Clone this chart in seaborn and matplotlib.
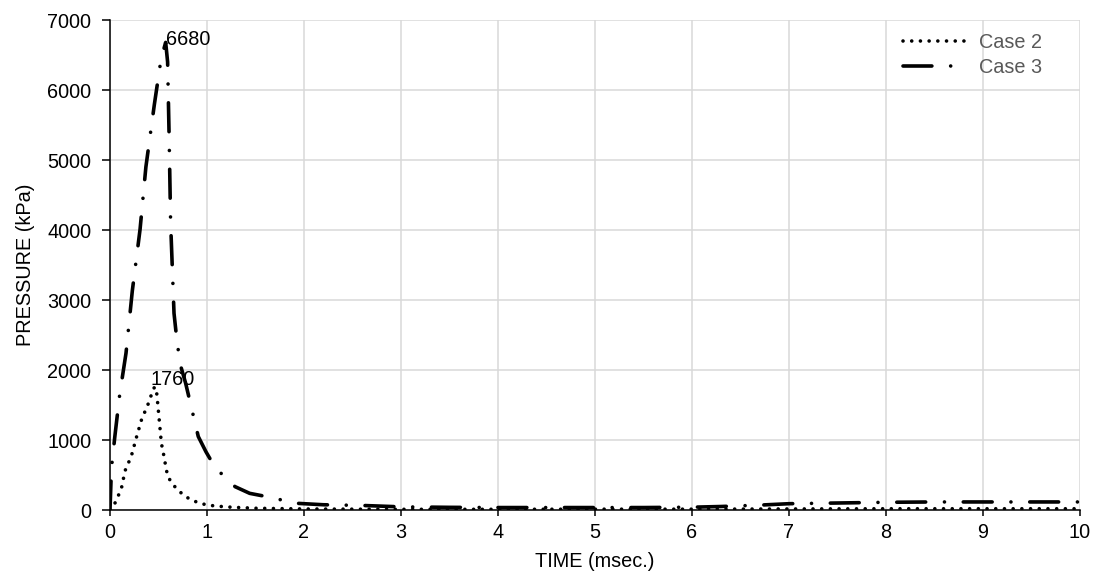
import matplotlib
matplotlib.use("Agg")
import matplotlib.pyplot as plt
import seaborn as sns
import pandas as pd

# Case 2 pressure history (time in msec, pressure in kPa)
time_case2 = [0.0, 0.05, 0.086, 0.12, 0.155, 0.22, 0.275, 0.325, 0.395, 0.44, 0.46,
              0.48, 0.49, 0.50, 0.51, 0.52, 0.53, 0.545, 0.56, 0.575, 0.595, 0.645,
              0.70, 0.77, 0.84, 0.93, 1.01, 1.10, 1.25, 1.5, 2.0, 2.5, 3.0, 4.0,
              5.0, 6.0, 7.0, 8.0, 9.0, 10.0]
pressure_case2 = [0, 95, 205, 324, 560, 770, 1050, 1290, 1520, 1700, 1760,
                  1690, 1550, 1400, 1250, 1100, 950, 850, 740, 620, 480, 370,
                  285, 200, 143, 95, 70, 55, 40, 25, 15, 12, 10, 10,
                  12, 12, 15, 18, 18, 18]

# Case 3 pressure history
time_case3 = [0.0, 0.015, 0.05, 0.10, 0.165, 0.23, 0.31, 0.37, 0.457, 0.526, 0.574,
              0.594, 0.61, 0.625, 0.66, 0.68, 0.72, 0.78, 0.85, 0.91, 0.99, 1.07,
              1.18, 1.29, 1.44, 1.62, 1.92, 2.2, 2.6, 3.0, 3.5, 4.0, 4.5, 5.0,
              5.5, 6.0, 6.3, 6.7, 7.0, 7.5, 8.0, 8.5, 9.0, 9.5, 10.0]
pressure_case3 = [0, 600, 1050, 1650, 2240, 3130, 4010, 4900, 5790, 6440, 6680,
                  6400, 5300, 4100, 2810, 2550, 2100, 1810, 1400, 1050, 830, 640,
                  470, 333, 238, 190, 96, 75, 65, 45, 38, 35, 35, 35,
                  35, 40, 50, 70, 90, 100, 110, 115, 115, 115, 115]

peak_labels = [("6680", 0.574, 6680, (0, -2)), ("1760", 0.46, 1760, (-3.3, 1.3))]

x_ticks = list(range(0, 11))
y_ticks = list(range(0, 8000, 1000))

FS = 14.3

sns.set_style("white")
plt.rcParams["font.family"] = ["Liberation Sans", "DejaVu Sans"]
plt.rcParams["font.size"] = FS
plt.rcParams["text.color"] = "black"
plt.rcParams["axes.labelcolor"] = "black"

fig = plt.figure(figsize=(10.97, 5.71), dpi=100)
ax = fig.add_axes([0.10027, 0.10683, 0.88423, 0.85814])

df2 = pd.DataFrame({"t": time_case2, "p": pressure_case2})
df3 = pd.DataFrame({"t": time_case3, "p": pressure_case3})

lw = 2.6
sns.lineplot(data=df2, x="t", y="p", ax=ax, color="black", lw=lw,
             estimator=None, sort=False, label="Case 2",
             linestyle=(0, (0.01, 2.4)), dash_capstyle="round", zorder=3)
sns.lineplot(data=df3, x="t", y="p", ax=ax, color="black", lw=lw,
             estimator=None, sort=False, label="Case 3",
             linestyle=(0, (8, 5.2, 0.01, 5.2)), dash_capstyle="round", zorder=3)

for text, tx, py, off in peak_labels:
    ax.annotate(text, xy=(tx, py), xytext=off, textcoords="offset points",
                ha="left", va="baseline", fontsize=FS, color="black", zorder=4)

ax.set_xlim(0, 10)
ax.set_ylim(0, 7000)
ax.set_xticks(x_ticks)
ax.set_yticks(y_ticks)
ax.set_xticklabels([str(v) for v in x_ticks])
ax.set_yticklabels([str(v) for v in y_ticks])

ax.grid(True, color="#d9d9d9", lw=1.1, zorder=0)
ax.set_axisbelow(True)
for side in ("top", "right"):
    ax.spines[side].set_visible(False)
for side in ("left", "bottom"):
    ax.spines[side].set_color("black")
    ax.spines[side].set_linewidth(1.1)
    ax.spines[side].set_zorder(5)

ax.tick_params(axis="y", direction="out", length=5.5, width=1.1, pad=8,
               labelsize=FS, colors="black", left=True)
ax.tick_params(axis="x", direction="out", length=4.5, width=1.1, pad=5,
               labelsize=FS, colors="black", bottom=True)

ax.set_xlabel("TIME (msec.)", fontsize=FS, labelpad=7, color="black")
ax.set_ylabel("PRESSURE (kPa)", fontsize=FS, labelpad=9, color="black")

leg = ax.legend(loc="upper left", bbox_to_anchor=(903 / 1097, 1 - 33 / 571),
                bbox_transform=fig.transFigure, frameon=False, borderpad=0,
                borderaxespad=0, handlelength=3.2, handletextpad=0.65,
                labelspacing=0.3, fontsize=FS)
for t in leg.get_texts():
    t.set_color("#595959")

fig.savefig("out.png", dpi=100)
